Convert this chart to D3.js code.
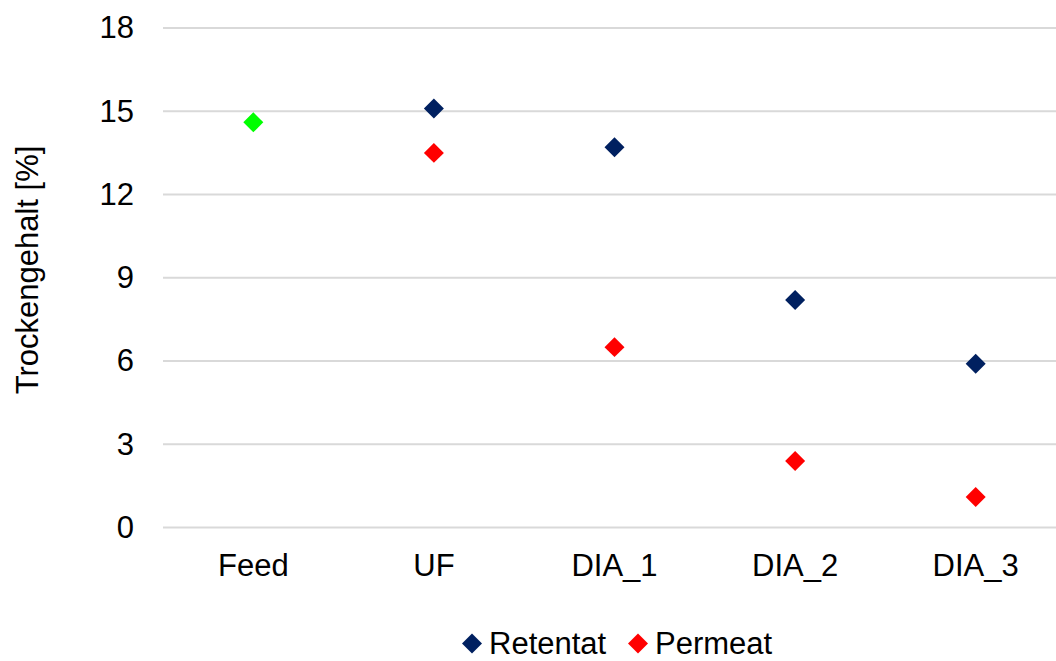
<!DOCTYPE html>
<html>
<head>
<meta charset="utf-8">
<script src="https://cdn.jsdelivr.net/npm/d3@7"></script>
<style>
  html, body { margin: 0; padding: 0; background: #fff; }
  svg { display: block; font-family: "Liberation Sans", Arial, sans-serif; }
</style>
</head>
<body>
<svg id="chart" width="1056" height="661"></svg>
<script>
// Dry matter content per process stage
const categories = ["Feed", "UF", "DIA_1", "DIA_2", "DIA_3"];
const feedValues = [14.6, null, null, null, null];
const retentatValues = [null, 15.1, 13.7, 8.2, 5.9];
const permeatValues = [null, 13.5, 6.5, 2.4, 1.1];
const yTicks = [0, 3, 6, 9, 12, 15, 18];

const series = [
  { name: "Feed", values: feedValues, color: "#00FF00", legend: false },
  { name: "Retentat", values: retentatValues, color: "#002060", legend: true },
  { name: "Permeat", values: permeatValues, color: "#FF0000", legend: true }
];

const fontSize = 31;
const svg = d3.select("#chart");
const plot = { left: 163, right: 1066, top: 28, bottom: 527.5 };

const x = d3.scaleBand().domain(categories).range([plot.left, plot.right]);
const y = d3.scaleLinear().domain([0, 18]).range([plot.bottom, plot.top]);

// horizontal gridlines
svg.append("g")
  .selectAll("line")
  .data(yTicks)
  .join("line")
  .attr("x1", plot.left).attr("x2", plot.right)
  .attr("y1", d => y(d)).attr("y2", d => y(d))
  .attr("stroke", "#D9D9D9").attr("stroke-width", 2);

// y axis labels
const yAxis = svg.append("g")
  .attr("transform", `translate(${plot.left},0)`)
  .call(d3.axisLeft(y).tickValues(yTicks).tickSize(0).tickPadding(29));
yAxis.select(".domain").remove();
yAxis.selectAll("text")
  .attr("font-size", fontSize).attr("fill", "#000")
  .attr("font-family", "Liberation Sans, Arial, sans-serif");

// x axis labels
const xAxis = svg.append("g")
  .attr("transform", `translate(0,${plot.bottom})`)
  .call(d3.axisBottom(x).tickSize(0).tickPadding(26));
xAxis.select(".domain").remove();
xAxis.selectAll("text")
  .attr("font-size", fontSize).attr("fill", "#000")
  .attr("font-family", "Liberation Sans, Arial, sans-serif");

// y axis title
svg.append("text")
  .attr("transform", `translate(38,270) rotate(-90)`)
  .attr("text-anchor", "middle")
  .attr("font-size", fontSize)
  .attr("fill", "#000")
  .text("Trockengehalt [%]");

// diamond markers
const diamond = d3.symbol().type(d3.symbolSquare).size(200);

series.forEach(s => {
  svg.append("g")
    .selectAll("path")
    .data(categories.map((c, i) => ({ c, v: s.values[i] })).filter(d => d.v != null))
    .join("path")
    .attr("d", diamond)
    .attr("transform", d => `translate(${x(d.c) + x.bandwidth() / 2},${y(d.v)}) rotate(45)`)
    .attr("fill", s.color);
});

// legend
const legendItems = series.filter(s => s.legend);
const legendX = [472, 638];
const legend = svg.append("g");
legendItems.forEach((s, i) => {
  const g = legend.append("g").attr("transform", `translate(${legendX[i]},643.5)`);
  g.append("path").attr("d", diamond).attr("transform", "rotate(45)").attr("fill", s.color);
  g.append("text")
    .attr("x", 17).attr("y", 10.5)
    .attr("font-size", fontSize).attr("fill", "#000")
    .text(s.name);
});
</script>
</body>
</html>
